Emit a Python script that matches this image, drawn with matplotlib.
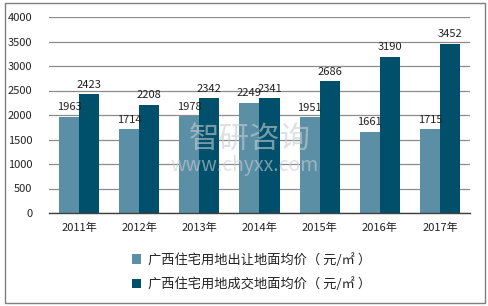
import matplotlib.pyplot as plt
import numpy as np
from matplotlib.patches import Rectangle

plt.rcParams['font.family'] = ['Noto Sans CJK SC', 'DejaVu Sans']

years = ['2011年', '2012年', '2013年', '2014年', '2015年', '2016年', '2017年']
transfer_price = [1963, 1714, 1978, 2249, 1951, 1661, 1715]
deal_price = [2423, 2208, 2342, 2341, 2686, 3190, 3452]
series_names = ['广西住宅用地出让地面均价（ 元/㎡ ）', '广西住宅用地成交地面均价（ 元/㎡ ）']
colors = ['#5B8FA6', '#00506B']

fig = plt.figure(figsize=(4.89, 3.06), dpi=100)
ax = fig.add_axes([49 / 489, 1 - 213 / 306, 421 / 489, 196 / 306])

x = np.arange(len(years))
w = 0.333
b1 = ax.bar(x - w / 2, transfer_price, w, color=colors[0], label=series_names[0], zorder=2)
b2 = ax.bar(x + w / 2, deal_price, w, color=colors[1], label=series_names[1], zorder=2)

for bars in (b1, b2):
    for r in bars:
        ax.text(r.get_x() + r.get_width() / 2, r.get_height() + 90, str(int(r.get_height())),
                ha='center', va='bottom', fontsize=8, color='#222222', zorder=3)

ax.set_xlim(-0.5, len(years) - 0.5)
ax.set_ylim(0, 4000)
ax.set_yticks(np.arange(0, 4001, 500))
ax.set_xticks(x)
ax.set_xticklabels(years)
ax.tick_params(axis='both', length=0, labelsize=8, colors='#222222')
ax.tick_params(axis='x', pad=7)
ax.tick_params(axis='y', pad=12)
ax.yaxis.grid(True, color='#8C8C8C', linewidth=0.9, zorder=0)
for s in ['top', 'right', 'left']:
    ax.spines[s].set_visible(False)
ax.spines['bottom'].set_color('#404040')
ax.spines['bottom'].set_linewidth(1.0)
ax.spines['bottom'].set_zorder(3)

# watermark
fig.text(0.51, 0.545, '智研咨询', ha='center', va='center', fontsize=22, color='#C8CDD2', alpha=0.6, zorder=0)
fig.text(0.5, 0.46, 'www.chyxx.com', ha='center', va='center', fontsize=14, color='#C8CDD2', alpha=0.6, zorder=0)

handles = [b1, b2]
fig.legend(handles, series_names, loc='center left', bbox_to_anchor=(120 / 489, 1 - 272 / 306),
           frameon=False, fontsize=9.5, handlelength=0.7, handleheight=0.7, handletextpad=0.5,
           labelspacing=0.8, labelcolor='#222222')

fig.add_artist(Rectangle((4.5 / 489, 1 - 302.5 / 306), 480.5 / 489, 299.5 / 306,
                         transform=fig.transFigure, fill=False, edgecolor='#7F7F7F', linewidth=1.0))

fig.savefig('out.png', dpi=100)
